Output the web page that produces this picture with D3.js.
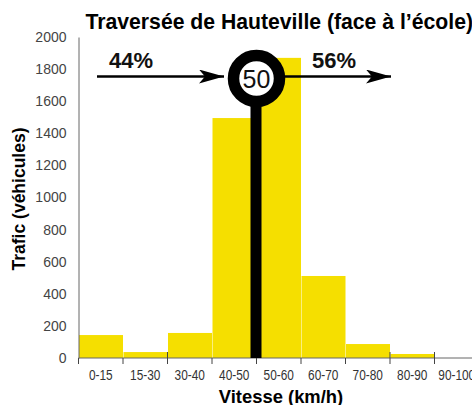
<!DOCTYPE html>
<html><head><meta charset="utf-8">
<script src="https://cdn.jsdelivr.net/npm/d3@7"></script>
<style>html,body{margin:0;padding:0;background:#fff}svg{display:block}text{font-family:"Liberation Sans",Arial,sans-serif}</style>
</head><body><div id="c"></div>
<script>
const categories=["0-15","15-30","30-40","40-50","50-60","60-70","70-80","80-90","90-100"];
const trafic=[143,37,156,1495,1870,511,87,25,0];
const yTicks=[0,200,400,600,800,1000,1200,1400,1600,1800,2000];
const title="Traversée de Hauteville (face à l’école)";
const xTitle="Vitesse (km/h)";
const yTitle="Trafic (véhicules)";
const seuil=50;
const parts=["44%","56%"];

const svg=d3.select("#c").append("svg").attr("width",472).attr("height",405);
const x=d3.scaleBand().domain(categories).range([78.5,479]).paddingInner(0).paddingOuter(0);
const y=d3.scaleLinear().domain([0,2000]).range([358,37]);
const speed=d3.scaleLinear().domain([40,60]).range([x("40-50"),x("60-70")]);

svg.append("g").selectAll("rect").data(categories).join("rect")
 .attr("x",d=>x(d)+0.5).attr("width",x.step()-0.5)
 .attr("y",(d,i)=>y(trafic[i])).attr("height",(d,i)=>y(0)-y(trafic[i]))
 .attr("fill","#f5df00");

const gx=svg.append("g").attr("transform","translate(0,358)")
 .call(d3.axisBottom(x).tickSize(0).tickPadding(12));
gx.select(".domain").remove();
gx.selectAll("text").attr("font-size",13.8).attr("fill","#333").style("transform","scaleX(0.86)").style("transform-box","fill-box").style("transform-origin","center");
svg.append("line").attr("x1",78.5).attr("x2",472).attr("y1",358).attr("y2",358).attr("stroke","#666").attr("stroke-width",1);
svg.append("g").selectAll("line").data(categories).join("line")
 .attr("x1",d=>x(d)).attr("x2",d=>x(d))
 .attr("y1",(d,i)=>(i==2||i==7||i==8)?352:358).attr("y2",364)
 .attr("stroke","#444").attr("stroke-width",1);

const gy=svg.append("g").attr("transform","translate(78.5,0)")
 .call(d3.axisLeft(y).tickValues(yTicks).tickFormat(d3.format("d")).tickSize(0).tickPadding(12));
gy.select(".domain").attr("stroke","#666");
gy.selectAll("text").attr("font-size",14).attr("fill","#444");

const cx=speed(seuil), cy=78.5;
svg.append("rect").attr("x",cx-6).attr("y",cy).attr("width",11).attr("height",358-cy).attr("fill","#000");

svg.append("defs").append("marker").attr("id","a").attr("viewBox","0 0 25 14").attr("refX",25).attr("refY",7)
 .attr("markerUnits","userSpaceOnUse").attr("markerWidth",25).attr("markerHeight",14).attr("orient","auto")
 .append("path").attr("d","M0,0L25,7L0,14L6,7Z").attr("fill","#000");
svg.append("line").attr("x1",97).attr("x2",224).attr("y1",76.5).attr("y2",76.5).attr("stroke","#000").attr("stroke-width",2.5).attr("marker-end","url(#a)");
svg.append("line").attr("x1",280).attr("x2",391).attr("y1",76.5).attr("y2",76.5).attr("stroke","#000").attr("stroke-width",2.5).attr("marker-end","url(#a)");

svg.append("circle").attr("cx",cx).attr("cy",cy).attr("r",23).attr("fill","#fff").attr("stroke","#000").attr("stroke-width",11.5);
svg.append("text").attr("x",cx).attr("y",cy+9).attr("text-anchor","middle").attr("font-size",25).attr("fill","#111").text(seuil);

svg.append("text").attr("x",109).attr("y",68).attr("font-size",22).attr("font-weight","bold").attr("fill","#111").text(parts[0]);
svg.append("text").attr("x",312).attr("y",68).attr("font-size",22).attr("font-weight","bold").attr("fill","#111").text(parts[1]);
svg.append("text").attr("x",85.5).attr("y",29).attr("font-size",21.2).attr("font-weight","bold").attr("fill","#000").text(title);
svg.append("text").attr("x",281).attr("y",403).attr("text-anchor","middle").attr("font-size",18.4).attr("font-weight","bold").attr("fill","#000").text(xTitle);
svg.append("text").attr("transform","translate(25,199) rotate(-90)").attr("text-anchor","middle").attr("font-size",17.5).attr("font-weight","bold").attr("fill","#000").text(yTitle);
</script></body></html>
